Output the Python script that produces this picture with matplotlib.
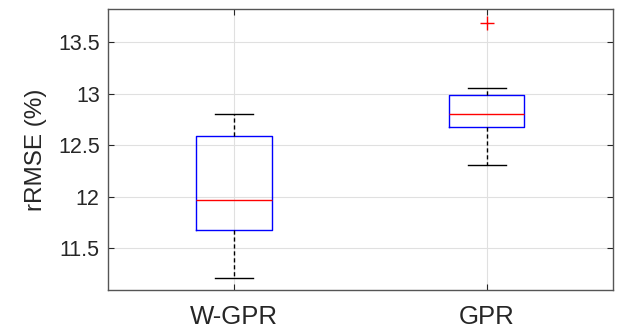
import numpy as np
import matplotlib.pyplot as plt

plt.rcParams['font.family'] = ['Liberation Sans', 'DejaVu Sans']

# ======================================
# Data
# ======================================

methods = ["W-GPR", "GPR"]
whislo = [11.21, 12.31]
q1 = [11.67, 12.68]
med = [11.97, 12.80]
q3 = [12.59, 12.99]
whishi = [12.80, 13.06]
fliers = [[], [13.69]]

stats = []
for i, name in enumerate(methods):
    stats.append(dict(label=name, whislo=whislo[i], q1=q1[i], med=med[i],
                      q3=q3[i], whishi=whishi[i], fliers=fliers[i]))

# ======================================
# Plot
# ======================================

fig = plt.figure(figsize=(6.19, 3.33), dpi=100)
ax = fig.add_axes([0.1745, 0.129, 0.8155, 0.8425])

ax.bxp(stats, positions=[1, 2], widths=0.3, showfliers=True,
       boxprops=dict(color="blue", linewidth=1.0),
       medianprops=dict(color="red", linewidth=1.0),
       whiskerprops=dict(color="black", linestyle=(0, (3, 2)), linewidth=1.0),
       capprops=dict(color="black", linewidth=1.0),
       capwidths=0.15,
       flierprops=dict(marker="+", markeredgecolor="red", markersize=10,
                       markeredgewidth=1.0))

ax.set_xlim(0.5, 2.5)
ax.set_ylim(11.09, 13.82)
ax.set_yticks([11.5, 12, 12.5, 13, 13.5])
ax.set_yticklabels(["11.5", "12", "12.5", "13", "13.5"])
ax.set_xticks([1, 2])
ax.set_xticklabels(methods)

ax.grid(True, color="#e0e0e0", linewidth=0.8)
ax.set_axisbelow(True)

ax.tick_params(axis="both", direction="in", length=4.5, width=0.8,
               top=True, right=True, colors="#262626")
ax.tick_params(axis="y", labelsize=15.5, pad=6)
ax.tick_params(axis="x", labelsize=18.5, pad=11)
for s in ax.spines.values():
    s.set_color("#555555")
    s.set_linewidth(1.0)

ax.set_ylabel("rRMSE (%)", fontsize=17.5, color="#262626", labelpad=8)

plt.savefig("out.png", dpi=100)
plt.close()
